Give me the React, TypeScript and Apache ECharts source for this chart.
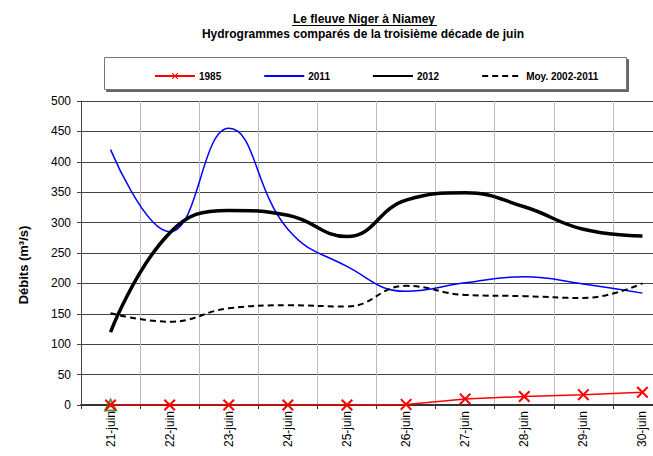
import React, { useEffect, useRef } from "react";
import * as echarts from "echarts";

const categories = ["21-juin", "22-juin", "23-juin", "24-juin", "25-juin", "26-juin", "27-juin", "28-juin", "29-juin", "30-juin"];
const s1985 = [0, 0, 0, 0, 0, 1, 10, 14, 17, 21];
const s2011 = [420, 285, 455, 289, 228, 187, 201, 211, 199, 184];
const s2012 = [120, 283, 320, 312, 277, 337, 349, 326, 289, 278];
const sMoy = [151, 137, 159, 164, 162, 196, 181, 179, 176, 200];
const triangleMark = [0];
const yTicks = { min: 0, max: 500, interval: 50 };

const titleText = "Le fleuve Niger à Niamey";
const subtitleText = "Hydrogrammes comparés de la troisième décade de juin";
const yName = "Débits (m³/s)";

const X_PATH = "path://M0,1.2L1.2,0L5,3.8L8.8,0L10,1.2L6.2,5L10,8.8L8.8,10L5,6.2L1.2,10L0,8.8L3.8,5Z";

export default function App() {
  const ref = useRef<HTMLDivElement>(null);
  useEffect(() => {
    document.body.style.margin = "0";
    const chart = echarts.init(ref.current!, null, { renderer: "svg" });
    const font = "Liberation Sans, Arial, sans-serif";
    chart.setOption({
      animation: false,
      backgroundColor: "#ffffff",
      textStyle: { fontFamily: font },
      graphic: [
        {
          type: "text",
          x: 364,
          y: 19,
          style: { text: titleText, textAlign: "center", textVerticalAlign: "middle", font: "bold 12px " + font, fill: "#000" },
        },
        { type: "line", shape: { x1: 292, y1: 25.5, x2: 437, y2: 25.5 }, style: { stroke: "#000", lineWidth: 1 } },
        {
          type: "text",
          x: 363,
          y: 34,
          style: { text: subtitleText, textAlign: "center", textVerticalAlign: "middle", font: "bold 12px " + font, fill: "#000" },
        },
        {
          type: "text",
          x: 23,
          y: 265,
          rotation: Math.PI / 2,
          style: { text: yName, textAlign: "center", textVerticalAlign: "middle", font: "bold 13px " + font, fill: "#000" },
        },
        {
          type: "rect",
          z: -1,
          shape: { x: 104.5, y: 57.5, width: 522, height: 32 },
          style: { fill: "#fff", stroke: "#777", lineWidth: 1, shadowColor: "rgba(0,0,0,0.6)", shadowOffsetX: 2, shadowOffsetY: 2, shadowBlur: 0 },
        },
      ],
      legend: {
        data: [
          { name: "1985" },
          { name: "2011", itemStyle: { opacity: 0 } },
          { name: "2012", itemStyle: { opacity: 0 } },
          { name: "Moy. 2002-2011", itemStyle: { opacity: 0 } },
        ],
        left: 149,
        top: 66,
        itemWidth: 40,
        itemHeight: 8,
        itemGap: 42,
        z: 10,
        textStyle: { fontSize: 10, fontWeight: "bold", color: "#000", fontFamily: font, padding: [0, 0, 0, -1] },
      },
      grid: { left: 81, top: 101, width: 591, height: 304, outerBoundsMode: "none", containLabel: false },
      xAxis: {
        type: "category",
        data: categories,
        boundaryGap: true,
        axisLine: { show: true, lineStyle: { color: "#333", width: 2 } },
        axisTick: { show: true, length: 4, lineStyle: { color: "#333" } },
        axisLabel: { rotate: 90, fontSize: 12, color: "#000", margin: 6, fontFamily: font },
        splitLine: { show: true, lineStyle: { color: "#bbb", width: 1 } },
      },
      yAxis: {
        type: "value",
        min: yTicks.min,
        max: yTicks.max,
        interval: yTicks.interval,
        axisLine: { show: true, lineStyle: { color: "#444", width: 1 } },
        axisTick: { show: true, length: 4, lineStyle: { color: "#444" } },
        axisLabel: { fontSize: 12, color: "#000", margin: 10, fontFamily: font },
        splitLine: { show: true, lineStyle: { color: "#444", width: 1 } },
      },
      series: [
        {
          name: "1985",
          type: "line",
          data: s1985,
          symbol: X_PATH,
          symbolSize: 12,
          lineStyle: { color: "#ff0000", width: 1.5 },
          itemStyle: { color: "#ff0000" },
          z: 3,
        },
        {
          name: "2011",
          type: "line",
          data: s2011,
          smooth: 0.45,
          showSymbol: false,
          symbol: "none",
          lineStyle: { color: "#0000ff", width: 1.5 },
          itemStyle: { color: "#0000ff" },
          z: 4,
        },
        {
          name: "2012",
          type: "line",
          data: s2012,
          smooth: 0.45,
          showSymbol: false,
          symbol: "none",
          lineStyle: { color: "#000", width: 3.5 },
          itemStyle: { color: "#000" },
          z: 5,
        },
        {
          name: "Moy. 2002-2011",
          type: "line",
          data: sMoy,
          smooth: 0.45,
          showSymbol: false,
          symbol: "none",
          lineStyle: { color: "#000", width: 2, type: [6, 4] },
          itemStyle: { color: "#000" },
          z: 5,
        },
        {
          name: "marque",
          type: "scatter",
          data: triangleMark,
          symbol: "triangle",
          symbolSize: 11,
          itemStyle: { color: "rgba(255,255,255,0)", borderColor: "#1a8a1a", borderWidth: 2 },
          z: 2,
        },
      ],
    });
    return () => chart.dispose();
  }, []);
  return <div ref={ref} style={{ width: 653, height: 456 }} />;
}
